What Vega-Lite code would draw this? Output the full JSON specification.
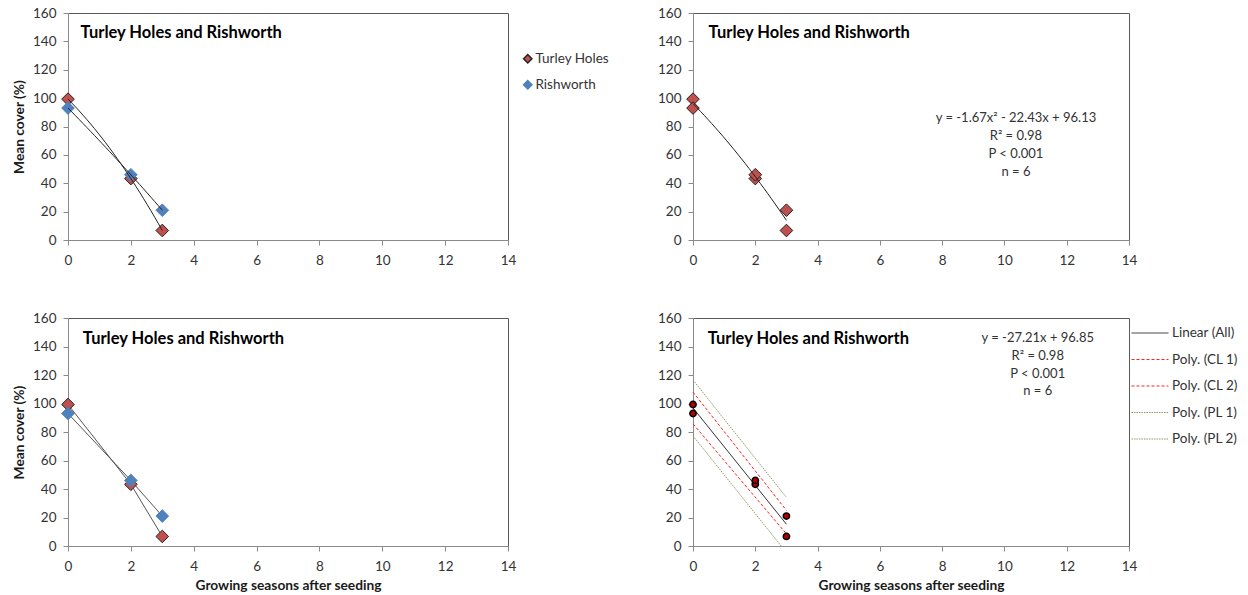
{
  "$schema": "https://vega.github.io/schema/vega-lite/v6.json",
  "padding": {"left": 12, "top": 5, "right": 0, "bottom": 0},
  "background": "white",
  "datasets": {
    "pts": [
      {"site": "Turley Holes", "x": 0, "y": 99.3},
      {"site": "Turley Holes", "x": 2, "y": 43.3},
      {"site": "Turley Holes", "x": 3, "y": 6.7},
      {"site": "Rishworth", "x": 0, "y": 93.0},
      {"site": "Rishworth", "x": 2, "y": 46.0},
      {"site": "Rishworth", "x": 3, "y": 21.0}
    ],
    "bands": [
      {"band": "Poly. (CL 1)", "x": 0, "y": 108},
      {"band": "Poly. (CL 1)", "x": 3, "y": 25},
      {"band": "Poly. (CL 2)", "x": 0, "y": 85.7},
      {"band": "Poly. (CL 2)", "x": 3, "y": 8.5},
      {"band": "Poly. (PL 1)", "x": 0, "y": 116.5},
      {"band": "Poly. (PL 1)", "x": 3, "y": 34.1},
      {"band": "Poly. (PL 2)", "x": 0, "y": 77.3},
      {"band": "Poly. (PL 2)", "x": 2.83, "y": 0}
    ],
    "title": [{"label": "Turley Holes and Rishworth"}],
    "eq2": [{"label": "y = -1.67x² - 22.43x + 96.13\nR² = 0.98\nP < 0.001\nn = 6"}],
    "eq4": [{"label": "y = -27.21x + 96.85\nR² = 0.98\nP < 0.001\nn = 6"}]
  },
  "bounds": "flush",
  "columns": 2,
  "spacing": {"row": 78, "column": 185},
  "resolve": {"scale": {"fill": "independent", "stroke": "independent", "color": "independent", "strokeDash": "independent"}},
  "concat": [
    {
      "width": 440,
      "height": 227,
      "layer": [
        {
          "data": {"name": "pts"},
          "mark": {"type": "point", "shape": "diamond", "filled": true, "size": 160, "strokeWidth": 1, "opacity": 1},
          "encoding": {
            "x": {"field": "x", "type": "quantitative", "scale": {"domain": [0, 14], "nice": false}, "axis": {"tickCount": 7, "title": null}},
            "y": {"field": "y", "type": "quantitative", "scale": {"domain": [0, 160], "nice": false}, "axis": {"tickCount": 8, "labelOverlap": false, "labelBound": false, "title": "Mean cover (%)"}},
            "fill": {"field": "site", "type": "nominal", "scale": {"domain": ["Turley Holes", "Rishworth"], "range": ["#C0504D", "#4F81BD"]}, "legend": {"title": null, "orient": "none", "legendX": 453, "legendY": 39, "symbolSize": 70, "rowPadding": 11, "labelOffset": 1}},
            "stroke": {"field": "site", "type": "nominal", "scale": {"domain": ["Turley Holes", "Rishworth"], "range": ["#222222", "#4F81BD"]}, "legend": {"title": null, "orient": "none", "legendX": 453, "legendY": 39, "symbolSize": 70, "rowPadding": 11, "labelOffset": 1}}
          }
        },
        {
          "data": {"name": "pts"},
          "transform": [{"regression": "y", "on": "x", "method": "poly", "order": 2, "groupby": ["site"], "extent": [0, 3]}],
          "mark": {"type": "line", "color": "#222222", "strokeWidth": 1},
          "encoding": {
            "x": {"field": "x", "type": "quantitative"},
            "y": {"field": "y", "type": "quantitative"},
            "detail": {"field": "site", "type": "nominal"}
          }
        },
        {
          "data": {"name": "title"},
          "mark": {"type": "text", "align": "left", "baseline": "middle", "fontSize": 16.5, "fontWeight": "bold", "font": "Lato", "color": "#000000"},
          "encoding": {"x": {"datum": 0.4}, "y": {"datum": 146}, "text": {"field": "label"}}
        }
      ]
    },
    {
      "width": 436,
      "height": 227,
      "layer": [
        {
          "data": {"name": "pts"},
          "mark": {"type": "point", "shape": "diamond", "filled": true, "size": 160, "strokeWidth": 1, "opacity": 1, "fill": "#C0504D", "stroke": "#222222"},
          "encoding": {
            "x": {"field": "x", "type": "quantitative", "scale": {"domain": [0, 14], "nice": false}, "axis": {"tickCount": 7, "title": null}},
            "y": {"field": "y", "type": "quantitative", "scale": {"domain": [0, 160], "nice": false}, "axis": {"tickCount": 8, "labelOverlap": false, "labelBound": false, "title": null}}
          }
        },
        {
          "data": {"name": "pts"},
          "transform": [{"regression": "y", "on": "x", "method": "poly", "order": 2, "extent": [0, 3]}],
          "mark": {"type": "line", "color": "#222222", "strokeWidth": 1},
          "encoding": {
            "x": {"field": "x", "type": "quantitative"},
            "y": {"field": "y", "type": "quantitative"}
          }
        },
        {
          "data": {"name": "title"},
          "mark": {"type": "text", "align": "left", "baseline": "middle", "fontSize": 16.5, "fontWeight": "bold", "font": "Lato", "color": "#000000"},
          "encoding": {"x": {"datum": 0.5}, "y": {"datum": 146}, "text": {"field": "label"}}
        },
        {
          "data": {"name": "eq2"},
          "mark": {"type": "text", "align": "center", "baseline": "alphabetic", "fontSize": 13, "font": "Lato", "color": "#333333", "lineBreak": "\n", "lineHeight": 17.8},
          "encoding": {"x": {"datum": 10.37}, "y": {"datum": 83}, "text": {"field": "label"}}
        }
      ]
    },
    {
      "width": 440,
      "height": 228,
      "layer": [
        {
          "data": {"name": "pts"},
          "mark": {"type": "line", "color": "#555555", "strokeWidth": 1},
          "encoding": {
            "x": {"field": "x", "type": "quantitative", "scale": {"domain": [0, 14], "nice": false}, "axis": {"tickCount": 7, "title": "Growing seasons after seeding"}},
            "y": {"field": "y", "type": "quantitative", "scale": {"domain": [0, 160], "nice": false}, "axis": {"tickCount": 8, "labelOverlap": false, "labelBound": false, "title": "Mean cover (%)"}},
            "detail": {"field": "site", "type": "nominal"}
          }
        },
        {
          "data": {"name": "pts"},
          "mark": {"type": "point", "shape": "diamond", "filled": true, "size": 160, "strokeWidth": 1, "opacity": 1},
          "encoding": {
            "x": {"field": "x", "type": "quantitative"},
            "y": {"field": "y", "type": "quantitative"},
            "fill": {"field": "site", "type": "nominal", "scale": {"domain": ["Turley Holes", "Rishworth"], "range": ["#C0504D", "#4F81BD"]}, "legend": null},
            "stroke": {"field": "site", "type": "nominal", "scale": {"domain": ["Turley Holes", "Rishworth"], "range": ["#222222", "#4F81BD"]}, "legend": null}
          }
        },
        {
          "data": {"name": "title"},
          "mark": {"type": "text", "align": "left", "baseline": "middle", "fontSize": 16.5, "fontWeight": "bold", "font": "Lato", "color": "#000000"},
          "encoding": {"x": {"datum": 0.47}, "y": {"datum": 145.5}, "text": {"field": "label"}}
        }
      ]
    },
    {
      "width": 436,
      "height": 228,
      "layer": [
        {
          "data": {"name": "bands"},
          "mark": {"type": "line", "strokeWidth": 1},
          "encoding": {
            "x": {"field": "x", "type": "quantitative", "scale": {"domain": [0, 14], "nice": false}, "axis": {"tickCount": 7, "title": "Growing seasons after seeding"}},
            "y": {"field": "y", "type": "quantitative", "scale": {"domain": [0, 160], "nice": false}, "axis": {"tickCount": 8, "labelOverlap": false, "labelBound": false, "title": null}},
            "stroke": {"field": "band", "type": "nominal", "scale": {"domain": ["Linear (All)", "Poly. (CL 1)", "Poly. (CL 2)", "Poly. (PL 1)", "Poly. (PL 2)"], "range": ["#333333", "#FF2020", "#FF2020", "#8E9A62", "#8E9A62"]}, "legend": {"title": null, "orient": "none", "legendX": 438, "legendY": -4, "symbolType": "stroke", "symbolSize": 1369, "symbolStrokeWidth": 1, "labelOffset": 3, "rowPadding": 0.5, "encode": {"symbols": {"update": {"stroke": {"signal": "indexof(datum.value, 'CL') >= 0 ? '#FF2020' : (indexof(datum.value, 'PL') >= 0 ? '#8E9A62' : '#333333')"}, "strokeDash": {"signal": "indexof(datum.value, 'CL') >= 0 ? [3, 2] : (indexof(datum.value, 'PL') >= 0 ? [1.5, 1] : [1, 0])"}}}}}},
            "strokeDash": {"field": "band", "type": "nominal", "scale": {"domain": ["Linear (All)", "Poly. (CL 1)", "Poly. (CL 2)", "Poly. (PL 1)", "Poly. (PL 2)"], "range": [[1, 0], [3, 2], [3, 2], [1.5, 1], [1.5, 1]]}, "legend": null}
          }
        },
        {
          "data": {"name": "pts"},
          "transform": [{"regression": "y", "on": "x", "method": "linear", "extent": [0, 3]}],
          "mark": {"type": "line", "strokeWidth": 1, "color": "#333333"},
          "encoding": {
            "x": {"field": "x", "type": "quantitative"},
            "y": {"field": "y", "type": "quantitative"}
          }
        },
        {
          "data": {"name": "pts"},
          "mark": {"type": "point", "shape": "circle", "filled": true, "size": 40, "strokeWidth": 1.5, "opacity": 1, "fill": "#B00000", "stroke": "#000000"},
          "encoding": {
            "x": {"field": "x", "type": "quantitative"},
            "y": {"field": "y", "type": "quantitative"}
          }
        },
        {
          "data": {"name": "title"},
          "mark": {"type": "text", "align": "left", "baseline": "middle", "fontSize": 16.5, "fontWeight": "bold", "font": "Lato", "color": "#000000"},
          "encoding": {"x": {"datum": 0.47}, "y": {"datum": 145}, "text": {"field": "label"}}
        },
        {
          "data": {"name": "eq4"},
          "mark": {"type": "text", "align": "center", "baseline": "alphabetic", "fontSize": 13, "font": "Lato", "color": "#333333", "lineBreak": "\n", "lineHeight": 17.8},
          "encoding": {"x": {"datum": 11.07}, "y": {"datum": 143.2}, "text": {"field": "label"}}
        }
      ]
    }
  ],
  "config": {
    "font": "Lato",
    "view": {"stroke": "#5a5a5a", "strokeWidth": 1},
    "axis": {
      "grid": false,
      "domainColor": "#8a8a8a",
      "domainWidth": 1,
      "tickColor": "#8a8a8a",
      "tickSize": 5,
      "labelFont": "Lato",
      "labelFontSize": 13.5,
      "labelColor": "#333333",
      "labelFlush": false,
      "labelOverlap": false,
      "labelPadding": 7,
      "titleFont": "Lato",
      "titleFontSize": 13.75,
      "titleFontWeight": "bold",
      "titleColor": "#1a1a1a",
      "titlePadding": 6
    },
    "axisX": {"labelPadding": 8},
    "legend": {"labelFont": "Lato", "labelFontSize": 13.5, "labelColor": "#333333", "padding": 0}
  }
}
